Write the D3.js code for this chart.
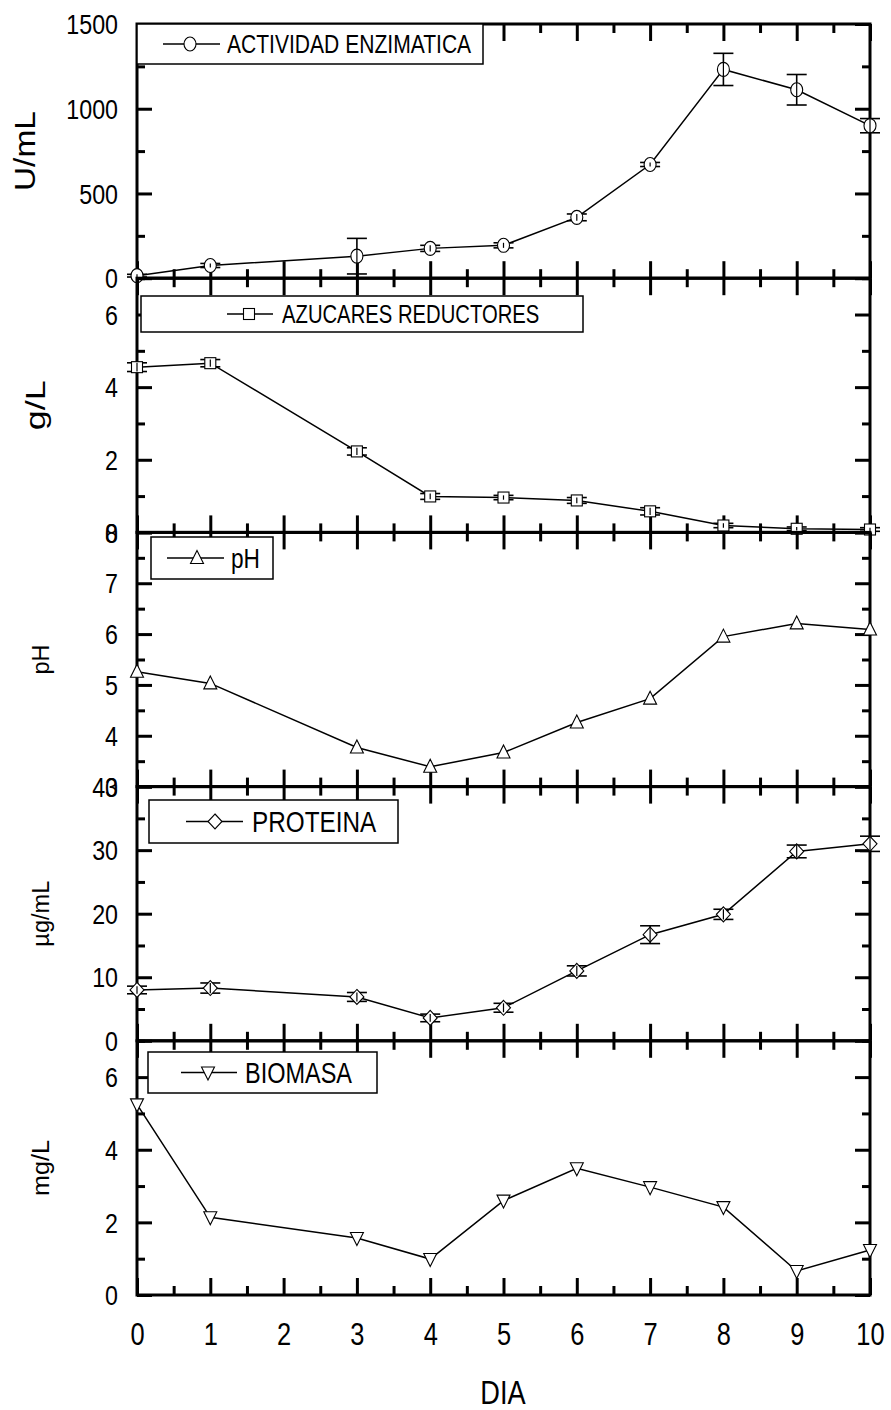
<!DOCTYPE html>
<html>
<head>
<meta charset="utf-8">
<script src="https://cdn.jsdelivr.net/npm/d3@7"></script>
<style>
  html, body { margin: 0; padding: 0; background: #fff; }
  svg { display: block; }
  text { font-family: "Liberation Sans Narrow", "Arial Narrow", "Liberation Sans", Arial, sans-serif; fill: #000; }
</style>
</head>
<body>
<svg id="chart" width="891" height="1410"></svg>
<script>
// Sampling days
const days = [0, 1, 3, 4, 5, 6, 7, 8, 9, 10];

// Enzymatic activity (U/mL) and its standard deviation
const enzyme    = [15, 75, 130, 176, 194, 359, 671, 1232, 1112, 900];
const enzymeErr = [8, 12, 105, 18, 15, 20, 12, 95, 90, 42];

// Reducing sugars (g/L)
const sugars    = [4.55, 4.66, 2.23, 0.99, 0.96, 0.88, 0.58, 0.19, 0.10, 0.08];
const sugarsErr = [0.12, 0.1, 0.1, 0.08, 0.06, 0.08, 0.1, 0.06, 0.05, 0.05];

// pH
const ph = [5.26, 5.03, 3.77, 3.39, 3.67, 4.26, 4.73, 5.95, 6.21, 6.09];

// Protein (µg/mL)
const protein    = [8.0, 8.3, 6.9, 3.6, 5.2, 11.0, 16.7, 19.9, 29.8, 31.0];
const proteinErr = [0.6, 0.8, 0.7, 0.6, 0.7, 0.8, 1.4, 0.8, 1.0, 1.2];

// Biomass (mg/L)
const biomass = [5.25, 2.14, 1.57, 0.99, 2.6, 3.49, 2.97, 2.42, 0.66, 1.24];

// Axis tick values
const xMajor = d3.range(0, 11, 1);
const xMinor = d3.range(0.5, 10, 1);

const panels = [
  { title: "U/mL", legend: "ACTIVIDAD ENZIMATICA", sym: "circle", values: enzyme, err: enzymeErr,
    domain: [0, 1500], major: [0, 500, 1000, 1500], minor: [250, 750, 1250],
    titleSize: 29, titleLen: 80, titleX: 25, legendBox: [137, 24, 483, 64], legendSize: 26, symX: 190, lineL: 163, lineR: 220, textX: 227 },
  { title: "g/L", legend: "AZUCARES REDUCTORES", sym: "square", values: sugars, err: sugarsErr,
    domain: [0, 7], major: [0, 2, 4, 6], minor: [1, 3, 5, 7],
    titleSize: 28, titleLen: 50, titleX: 35, legendBox: [141, 296, 583, 332], legendSize: 25, symX: 249, lineL: 227, lineR: 273, textX: 282 },
  { title: "pH", legend: "pH", sym: "triangle", values: ph, err: null,
    domain: [3, 8], major: [3, 4, 5, 6, 7, 8], minor: [3.5, 4.5, 5.5, 6.5, 7.5],
    titleSize: 24, titleLen: 30, titleX: 41, legendBox: [151, 537, 273, 579], legendSize: 28, symX: 197, lineL: 167, lineR: 224, textX: 231 },
  { title: "\u00b5g/mL", legend: "PROTEINA", sym: "diamond", values: protein, err: proteinErr,
    domain: [0, 40], major: [0, 10, 20, 30, 40], minor: [5, 15, 25, 35],
    titleSize: 23, titleLen: 66, titleX: 41, legendBox: [149, 800, 398, 843], legendSize: 30, symX: 215, lineL: 186, lineR: 243, textX: 252 },
  { title: "mg/L", legend: "BIOMASA", sym: "triangleDown", values: biomass, err: null,
    domain: [0, 7], major: [0, 2, 4, 6], minor: [1, 3, 5, 7],
    titleSize: 23, titleLen: 56, titleX: 41, legendBox: [148, 1052, 377, 1093], legendSize: 29, symX: 208, lineL: 181, lineR: 237, textX: 245 }
];

const left = 137, right = 870;
const panelTop = 24, panelH = 254.2;
const svg = d3.select("#chart");
const x = d3.scaleLinear().domain([0, 10]).range([left, right]);

// Squeeze text horizontally to imitate a condensed face
function condense(sel, ratio) {
  sel.each(function () {
    const L = this.getComputedTextLength();
    d3.select(this).attr("textLength", L * ratio).attr("lengthAdjust", "spacingAndGlyphs");
  });
}

function drawSymbol(g, type, cx, cy) {
  const s = 6.5;
  let el;
  if (type === "circle") {
    el = g.append("ellipse").attr("cx", cx).attr("cy", cy).attr("rx", 6).attr("ry", 7);
  } else if (type === "square") {
    el = g.append("rect").attr("x", cx - 5.5).attr("y", cy - 5.5).attr("width", 11).attr("height", 11);
  } else if (type === "triangle") {
    el = g.append("path").attr("d", `M${cx},${cy - s - 1}L${cx + s},${cy + s - 1}L${cx - s},${cy + s - 1}Z`);
  } else if (type === "triangleDown") {
    el = g.append("path").attr("d", `M${cx},${cy + s + 1}L${cx + s},${cy - s + 1}L${cx - s},${cy - s + 1}Z`);
  } else if (type === "diamond") {
    el = g.append("path").attr("d", `M${cx},${cy - 7.5}L${cx + 7},${cy}L${cx},${cy + 7.5}L${cx - 7},${cy}Z`);
  }
  el.attr("fill", "#fff").attr("stroke", "#000").attr("stroke-width", 1.1);
}

panels.forEach((p, i) => {
  const top = panelTop + i * panelH;
  const bottom = top + panelH;
  const y = d3.scaleLinear().domain(p.domain).range([bottom, top]);
  const g = svg.append("g");

  // Axes: ticks point into the plot on all four sides
  const axisStyle = sel => {
    sel.select(".domain").remove();
    sel.selectAll(".tick line").attr("stroke", "#000").attr("stroke-width", 3);
  };
  const isLast = i === panels.length - 1;

  // bottom
  g.append("g").attr("transform", `translate(0,${bottom})`)
    .call(d3.axisBottom(x).tickValues(xMinor).tickSize(-9).tickFormat(""))
    .call(axisStyle);
  const bx = g.append("g").attr("transform", `translate(0,${bottom})`)
    .call(d3.axisBottom(x).tickValues(xMajor).tickSize(-17).tickPadding(isLast ? 50 : 0)
      .tickFormat(isLast ? d3.format("d") : ""))
    .call(axisStyle);
  bx.selectAll("text").attr("font-size", 31).attr("dy", "0");
  condense(bx.selectAll("text"), 0.82);
  // top
  g.append("g").attr("transform", `translate(0,${top})`)
    .call(d3.axisTop(x).tickValues(xMinor).tickSize(-9).tickFormat(""))
    .call(axisStyle);
  g.append("g").attr("transform", `translate(0,${top})`)
    .call(d3.axisTop(x).tickValues(xMajor).tickSize(-17).tickFormat(""))
    .call(axisStyle);
  // left
  g.append("g").attr("transform", `translate(${left},0)`)
    .call(d3.axisLeft(y).tickValues(p.minor).tickSize(-8).tickFormat(""))
    .call(axisStyle);
  const ly = g.append("g").attr("transform", `translate(${left},0)`)
    .call(d3.axisLeft(y).tickValues(p.major).tickSize(-15).tickPadding(19).tickFormat(d3.format("d")))
    .call(axisStyle);
  ly.selectAll("text").attr("font-size", 27).attr("text-anchor", "end").attr("dy", "0.36em");
  condense(ly.selectAll("text"), 0.86);
  // right
  g.append("g").attr("transform", `translate(${right},0)`)
    .call(d3.axisRight(y).tickValues(p.minor).tickSize(-8).tickFormat(""))
    .call(axisStyle);
  g.append("g").attr("transform", `translate(${right},0)`)
    .call(d3.axisRight(y).tickValues(p.major).tickSize(-15).tickFormat(""))
    .call(axisStyle);

  // Frame
  g.append("rect").attr("x", left).attr("y", top).attr("width", right - left).attr("height", panelH)
    .attr("fill", "none").attr("stroke", "#000").attr("stroke-width", 3);

  // Axis title
  g.append("text")
    .attr("transform", `translate(${p.titleX},${(top + bottom) / 2}) rotate(-90)`)
    .attr("text-anchor", "middle").attr("dy", "0.35em")
    .attr("font-size", p.titleSize)
    .attr("textLength", p.titleLen).attr("lengthAdjust", "spacingAndGlyphs")
    .text(p.title);

  // Legend box
  const [bx0, by0, bx1, by1] = p.legendBox;
  g.append("rect").attr("x", bx0).attr("y", by0).attr("width", bx1 - bx0).attr("height", by1 - by0)
    .attr("fill", "#fff").attr("stroke", "#000").attr("stroke-width", 1.5);
  const lyc = (by0 + by1) / 2;
  g.append("line").attr("x1", p.lineL).attr("x2", p.lineR).attr("y1", lyc).attr("y2", lyc)
    .attr("stroke", "#000").attr("stroke-width", 1.5);
  drawSymbol(g, p.sym, p.symX, lyc);
  const lt = g.append("text").attr("x", p.textX).attr("y", lyc).attr("dy", "0.36em")
    .attr("font-size", p.legendSize).text(p.legend);
  condense(lt, 0.81);

  // Data line
  const pts = days.map((d, k) => ({ d, v: p.values[k], e: p.err ? p.err[k] : 0 }));
  g.append("path").datum(pts)
    .attr("d", d3.line().x(q => x(q.d)).y(q => y(q.v)))
    .attr("fill", "none").attr("stroke", "#000").attr("stroke-width", 1.5);

  // Error bars
  if (p.err) {
    const eb = g.append("g").attr("stroke", "#000").attr("stroke-width", 1.6);
    pts.forEach(q => {
      const cx = x(q.d), y0 = y(q.v - q.e), y1 = y(q.v + q.e);
      eb.append("line").attr("x1", cx).attr("x2", cx).attr("y1", y0).attr("y2", y1);
      eb.append("line").attr("x1", cx - 10).attr("x2", cx + 10).attr("y1", y0).attr("y2", y0);
      eb.append("line").attr("x1", cx - 10).attr("x2", cx + 10).attr("y1", y1).attr("y2", y1);
    });
  }

  // Markers
  pts.forEach(q => {
    drawSymbol(g, p.sym, x(q.d), y(q.v));
    if (p.err) {
      const half = Math.min(7, y(q.v - q.e) - y(q.v));
      g.append("line").attr("x1", x(q.d)).attr("x2", x(q.d))
        .attr("y1", y(q.v) - half).attr("y2", y(q.v) + half)
        .attr("stroke", "#000").attr("stroke-width", 1.2);
    }
  });
});

// X axis title
const xt = svg.append("text").attr("x", 503).attr("y", 1404).attr("text-anchor", "middle")
  .attr("font-size", 34).text("DIA");
condense(xt, 0.8);
</script>
</body>
</html>
